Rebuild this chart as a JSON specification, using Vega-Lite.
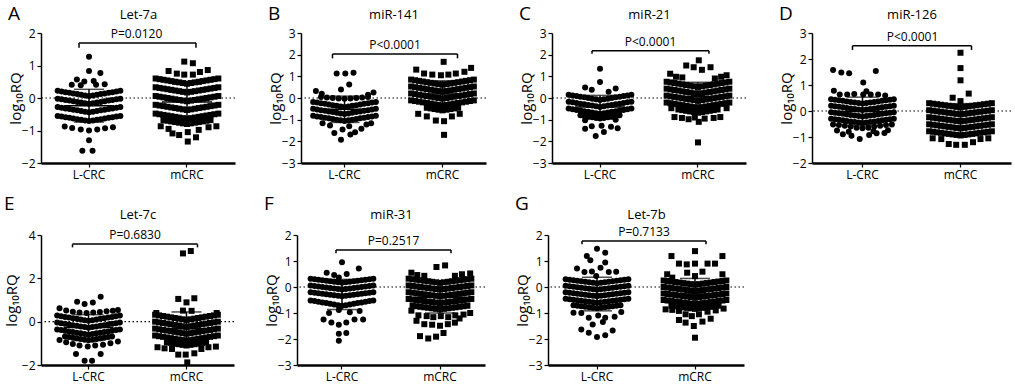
{
"$schema":"https://vega.github.io/schema/vega-lite/v6.json",
"padding":{"left":4,"top":5,"right":0,"bottom":4},
"config":{"font":"Open Sans","view":{"stroke":null},"axis":{"labelFont":"Open Sans","titleFont":"Open Sans","labelColor":"#000","titleColor":"#000","domainColor":"#000","tickColor":"#000","grid":false},"axisY":{"titleFontSize":15,"titleFontWeight":"normal","titleX":-18,"titleY":65,"tickSize":4,"tickWidth":1.2,"labelPadding":2,"domainWidth":1.5,"labelFontSize":12},"title":{"font":"Open Sans","fontWeight":"normal","color":"#000"}},
"datasets":{
"ann":[{"p":"A","t":"P=0.0120","yb":1.69,"yd":1.55},{"p":"B","t":"P<0.0001","yb":2.03,"yd":1.83},{"p":"C","t":"P<0.0001","yb":2.18,"yd":2.04},{"p":"D","t":"P<0.0001","yb":2.51,"yd":2.35},{"p":"E","t":"P=0.6830","yb":3.58,"yd":3.43},{"p":"F","t":"P=0.2517","yb":1.42,"yd":1.3},{"p":"G","t":"P=0.7133","yb":1.77,"yd":1.64}],
"pts":[
{"p":"A","g":"L-CRC","y":[0.22,0.2,0.18,0.16,0.14,0.12,0.1,0.08,0.06,0.08,0.1,0.12,0.14,0.16,0.18,0.2,0.22],"j":[-8,-7,-6,-5,-4,-3,-2,-1,0,1,2,3,4,5,6,7,8]},
{"p":"A","g":"L-CRC","y":[-0.02,-0.04,-0.06,-0.08,-0.1,-0.12,-0.14,-0.16,-0.18,-0.16,-0.14,-0.12,-0.1,-0.08,-0.06,-0.04,-0.02],"j":[-8,-7,-6,-5,-4,-3,-2,-1,0,1,2,3,4,5,6,7,8]},
{"p":"A","g":"L-CRC","y":[-0.28,-0.3,-0.32,-0.34,-0.36,-0.38,-0.4,-0.42,-0.44,-0.42,-0.4,-0.38,-0.36,-0.34,-0.32,-0.3,-0.28],"j":[-8,-7,-6,-5,-4,-3,-2,-1,0,1,2,3,4,5,6,7,8]},
{"p":"A","g":"L-CRC","y":[-0.55,-0.57,-0.59,-0.61,-0.63,-0.65,-0.67,-0.69,-0.71,-0.69,-0.67,-0.65,-0.63,-0.61,-0.59,-0.57,-0.55],"j":[-8,-7,-6,-5,-4,-3,-2,-1,0,1,2,3,4,5,6,7,8]},
{"p":"A","g":"L-CRC","y":[1.27,0.83,0.77,0.57,0.51,0.52,0.41,0.39,0.41,0.42,-0.88,-0.92,-0.97,-1.0,-0.97,-0.93,-0.9,-1.3,-1.62,-1.62],"j":[0,0,2.9,-3.1,-1.2,1.2,-4.4,-2.1,1.8,4,-6.2,-4.3,-2.1,0,2.1,4.1,6.1,0,-1.7,0.9]},
{"p":"A","g":"mCRC","y":[0.6,0.58,0.56,0.54,0.52,0.5,0.48,0.46,0.44,0.46,0.48,0.5,0.52,0.54,0.56,0.58,0.6],"j":[-8,-7,-6,-5,-4,-3,-2,-1,0,1,2,3,4,5,6,7,8]},
{"p":"A","g":"mCRC","y":[0.33,0.31,0.29,0.27,0.25,0.23,0.21,0.19,0.17,0.19,0.21,0.23,0.25,0.27,0.29,0.31,0.33],"j":[-8,-7,-6,-5,-4,-3,-2,-1,0,1,2,3,4,5,6,7,8]},
{"p":"A","g":"mCRC","y":[0.06,0.04,0.02,0,-0.02,-0.04,-0.06,-0.08,-0.1,-0.08,-0.06,-0.04,-0.02,0,0.02,0.04,0.06],"j":[-8,-7,-6,-5,-4,-3,-2,-1,0,1,2,3,4,5,6,7,8]},
{"p":"A","g":"mCRC","y":[-0.21,-0.23,-0.25,-0.27,-0.29,-0.31,-0.33,-0.35,-0.37,-0.35,-0.33,-0.31,-0.29,-0.27,-0.25,-0.23,-0.21],"j":[-8,-7,-6,-5,-4,-3,-2,-1,0,1,2,3,4,5,6,7,8]},
{"p":"A","g":"mCRC","y":[-0.48,-0.5,-0.52,-0.54,-0.56,-0.58,-0.6,-0.62,-0.64,-0.62,-0.6,-0.58,-0.56,-0.54,-0.52,-0.5,-0.48],"j":[-8,-7,-6,-5,-4,-3,-2,-1,0,1,2,3,4,5,6,7,8]},
{"p":"A","g":"mCRC","y":[-0.68,-0.7,-0.72,-0.74,-0.76,-0.78,-0.8,-0.78,-0.76,-0.74,-0.72,-0.7,-0.68],"j":[-6,-5,-4,-3,-2,-1,0,1,2,3,4,5,6]},
{"p":"A","g":"mCRC","y":[1.12,1.07,0.83,0.75,0.72,0.72,0.8,0.86,-0.87,-0.95,-0.9,-0.87,-1.09,-1.14,-1.05,-0.98,-1.21,-1.34],"j":[-0.7,1.5,-4.7,-2.6,-0.7,1.5,3.3,5.3,-6.7,-4.7,5.5,7.5,-3.7,-2,0.2,3,2.3,0.2]},
{"p":"B","g":"L-CRC","y":[0.05,0.02,0,-0.02,-0.04,-0.02,0,0.02,0.05],"j":[-6,-4.5,-3,-1.5,0,1.5,3,4.5,6]},
{"p":"B","g":"L-CRC","y":[-0.18,-0.21,-0.24,-0.27,-0.3,-0.33,-0.36,-0.39,-0.42,-0.39,-0.36,-0.33,-0.3,-0.27,-0.24,-0.21,-0.18],"j":[-8,-7,-6,-5,-4,-3,-2,-1,0,1,2,3,4,5,6,7,8]},
{"p":"B","g":"L-CRC","y":[-0.5,-0.53,-0.56,-0.59,-0.62,-0.65,-0.68,-0.71,-0.74,-0.71,-0.68,-0.65,-0.62,-0.59,-0.56,-0.53,-0.5],"j":[-8,-7,-6,-5,-4,-3,-2,-1,0,1,2,3,4,5,6,7,8]},
{"p":"B","g":"L-CRC","y":[-0.82,-0.85,-0.88,-0.91,-0.94,-0.97,-1,-1.03,-1.06,-1.03,-1,-0.97,-0.94,-0.91,-0.88,-0.85,-0.82],"j":[-8,-7,-6,-5,-4,-3,-2,-1,0,1,2,3,4,5,6,7,8]},
{"p":"B","g":"L-CRC","y":[1.13,1.13,1.16,0.62,0.39,0.32,0.2,0.25,0.15,-1.16,-1.27,-1.22,-1.16,-1.45,-1.42,-1.62,-1.58,-1.68,-1.93,-1.3],"j":[-2,0.2,2.3,1.2,-0.9,-7.3,-5.8,7.4,6,-5.6,-3.7,5.6,6.8,-0.5,4.3,-2.6,2.7,1.5,-0.9,1.2]},
{"p":"B","g":"mCRC","y":[0.85,0.82,0.79,0.76,0.73,0.7,0.67,0.64,0.61,0.64,0.67,0.7,0.73,0.76,0.79,0.82,0.85],"j":[-8,-7,-6,-5,-4,-3,-2,-1,0,1,2,3,4,5,6,7,8]},
{"p":"B","g":"mCRC","y":[0.53,0.5,0.47,0.44,0.41,0.38,0.35,0.32,0.29,0.32,0.35,0.38,0.41,0.44,0.47,0.5,0.53],"j":[-8,-7,-6,-5,-4,-3,-2,-1,0,1,2,3,4,5,6,7,8]},
{"p":"B","g":"mCRC","y":[0.21,0.18,0.15,0.12,0.09,0.06,0.03,0,-0.03,0,0.03,0.06,0.09,0.12,0.15,0.18,0.21],"j":[-8,-7,-6,-5,-4,-3,-2,-1,0,1,2,3,4,5,6,7,8]},
{"p":"B","g":"mCRC","y":[-0.11,-0.14,-0.17,-0.2,-0.23,-0.26,-0.29,-0.32,-0.35,-0.32,-0.29,-0.26,-0.23,-0.2,-0.17,-0.14,-0.11],"j":[-8,-7,-6,-5,-4,-3,-2,-1,0,1,2,3,4,5,6,7,8]},
{"p":"B","g":"mCRC","y":[-0.45,-0.48,-0.51,-0.54,-0.57,-0.54,-0.51,-0.48,-0.45],"j":[-4,-3,-2,-1,0,1,2,3,4]},
{"p":"B","g":"mCRC","y":[1.67,1.31,1.13,1.08,1.05,1.08,1.13,1.21,1.39,-0.73,-1.04,-1.07,-0.85,-0.73,-1.7,-0.85],"j":[0.3,-6.7,-4.7,-2.6,-0.4,1.5,3.4,5.6,7.3,-6.2,-1.7,0.4,2.4,4.4,0.4,-4]},
{"p":"C","g":"L-CRC","y":[0.15,0.12,0.09,0.06,0.03,0,-0.03,-0.06,-0.09,-0.06,-0.03,0,0.03,0.06,0.09,0.12,0.15],"j":[-8,-7,-6,-5,-4,-3,-2,-1,0,1,2,3,4,5,6,7,8]},
{"p":"C","g":"L-CRC","y":[-0.17,-0.2,-0.23,-0.26,-0.29,-0.32,-0.35,-0.38,-0.41,-0.38,-0.35,-0.32,-0.29,-0.26,-0.23,-0.2,-0.17],"j":[-8,-7,-6,-5,-4,-3,-2,-1,0,1,2,3,4,5,6,7,8]},
{"p":"C","g":"L-CRC","y":[-0.49,-0.52,-0.55,-0.58,-0.61,-0.64,-0.67,-0.7,-0.73,-0.7,-0.67,-0.64,-0.61,-0.58,-0.55,-0.52,-0.49],"j":[-8,-7,-6,-5,-4,-3,-2,-1,0,1,2,3,4,5,6,7,8]},
{"p":"C","g":"L-CRC","y":[-0.8,-0.83,-0.86,-0.89,-0.92,-0.95,-0.92,-0.89,-0.86,-0.83,-0.8],"j":[-5,-4,-3,-2,-1,0,1,2,3,4,5]},
{"p":"C","g":"L-CRC","y":[1.35,0.74,0.48,0.38,0.29,0.44,-1.03,-1.0,-1.3,-1.42,-1.33,-1.4,-1.57,-1.75,-1.28],"j":[0,0,-3.8,-2.1,2.2,4,-3.8,4,-2.1,-3.8,2.8,4.5,1,-1.1,0.4]},
{"p":"C","g":"mCRC","y":[0.75,0.72,0.69,0.66,0.63,0.6,0.57,0.54,0.51,0.54,0.57,0.6,0.63,0.66,0.69,0.72,0.75],"j":[-8,-7,-6,-5,-4,-3,-2,-1,0,1,2,3,4,5,6,7,8]},
{"p":"C","g":"mCRC","y":[0.43,0.4,0.37,0.34,0.31,0.28,0.25,0.22,0.19,0.22,0.25,0.28,0.31,0.34,0.37,0.4,0.43],"j":[-8,-7,-6,-5,-4,-3,-2,-1,0,1,2,3,4,5,6,7,8]},
{"p":"C","g":"mCRC","y":[0.11,0.08,0.05,0.02,-0.01,-0.04,-0.07,-0.1,-0.13,-0.1,-0.07,-0.04,-0.01,0.02,0.05,0.08,0.11],"j":[-8,-7,-6,-5,-4,-3,-2,-1,0,1,2,3,4,5,6,7,8]},
{"p":"C","g":"mCRC","y":[-0.21,-0.24,-0.27,-0.3,-0.33,-0.36,-0.39,-0.42,-0.45,-0.42,-0.39,-0.36,-0.33,-0.3,-0.27,-0.24,-0.21],"j":[-8,-7,-6,-5,-4,-3,-2,-1,0,1,2,3,4,5,6,7,8]},
{"p":"C","g":"mCRC","y":[-0.53,-0.56,-0.59,-0.62,-0.65,-0.68,-0.65,-0.62,-0.59,-0.56,-0.53],"j":[-5,-4,-3,-2,-1,0,1,2,3,4,5]},
{"p":"C","g":"mCRC","y":[1.74,1.5,1.42,1.3,1.42,1.12,0.98,0.95,0.98,1.05,0.9,-0.47,-0.88,-0.92,-0.98,-0.9,-1.1,-0.95,-0.92,-0.88,-0.47,-2.05],"j":[0.2,-3,-1.1,1,3.2,-7.1,-5.6,-4,5.9,7.3,4.3,-6.8,-6,-4.1,-2.4,-0.8,0.2,1.7,4,5.7,7.3,0]},
{"p":"D","g":"L-CRC","y":[0.78,0.63,0.63,0.65,0.63,0.63,0.63,0.6],"j":[-7.3,-5.8,-3.9,-2.1,0.2,2.1,4,5.8]},
{"p":"D","g":"L-CRC","y":[0.45,0.43,0.41,0.39,0.37,0.35,0.33,0.31,0.29,0.31,0.33,0.35,0.37,0.39,0.41,0.43,0.45],"j":[-8,-7,-6,-5,-4,-3,-2,-1,0,1,2,3,4,5,6,7,8]},
{"p":"D","g":"L-CRC","y":[0.2,0.18,0.16,0.14,0.12,0.1,0.08,0.06,0.04,0.06,0.08,0.1,0.12,0.14,0.16,0.18,0.2],"j":[-8,-7,-6,-5,-4,-3,-2,-1,0,1,2,3,4,5,6,7,8]},
{"p":"D","g":"L-CRC","y":[-0.05,-0.07,-0.09,-0.11,-0.13,-0.15,-0.17,-0.19,-0.21,-0.19,-0.17,-0.15,-0.13,-0.11,-0.09,-0.07,-0.05],"j":[-8,-7,-6,-5,-4,-3,-2,-1,0,1,2,3,4,5,6,7,8]},
{"p":"D","g":"L-CRC","y":[-0.3,-0.32,-0.34,-0.36,-0.38,-0.4,-0.42,-0.44,-0.46,-0.44,-0.42,-0.4,-0.38,-0.36,-0.34,-0.32,-0.3],"j":[-8,-7,-6,-5,-4,-3,-2,-1,0,1,2,3,4,5,6,7,8]},
{"p":"D","g":"L-CRC","y":[-0.52,-0.54,-0.57,-0.6,-0.64,-0.66,-0.64,-0.6,-0.57,-0.54,-0.52],"j":[-7.5,-6,-4.5,-3,-1.5,0,1.5,3,4.5,6,7.5]},
{"p":"D","g":"L-CRC","y":[1.58,1.48,1.45,1.54,1.1,0.76,-0.89,-0.95,-1.08,-0.92,-0.86,-0.85,-0.75,-0.8,-0.78,-0.74],"j":[-7.5,-5.4,-3.4,3.4,0.2,1,-5,-2.8,-0.7,1.7,3.6,5.6,-6.5,-3.5,2.8,6.5]},
{"p":"D","g":"mCRC","y":[0.3,0.28,0.26,0.24,0.22,0.2,0.18,0.16,0.14,0.16,0.18,0.2,0.22,0.24,0.26,0.28,0.3],"j":[-8,-7,-6,-5,-4,-3,-2,-1,0,1,2,3,4,5,6,7,8]},
{"p":"D","g":"mCRC","y":[0.03,0.01,-0.01,-0.03,-0.05,-0.07,-0.09,-0.11,-0.13,-0.11,-0.09,-0.07,-0.05,-0.03,-0.01,0.01,0.03],"j":[-8,-7,-6,-5,-4,-3,-2,-1,0,1,2,3,4,5,6,7,8]},
{"p":"D","g":"mCRC","y":[-0.24,-0.26,-0.28,-0.3,-0.32,-0.34,-0.36,-0.38,-0.4,-0.38,-0.36,-0.34,-0.32,-0.3,-0.28,-0.26,-0.24],"j":[-8,-7,-6,-5,-4,-3,-2,-1,0,1,2,3,4,5,6,7,8]},
{"p":"D","g":"mCRC","y":[-0.51,-0.53,-0.55,-0.57,-0.59,-0.61,-0.63,-0.65,-0.67,-0.65,-0.63,-0.61,-0.59,-0.57,-0.55,-0.53,-0.51],"j":[-8,-7,-6,-5,-4,-3,-2,-1,0,1,2,3,4,5,6,7,8]},
{"p":"D","g":"mCRC","y":[-0.78,-0.8,-0.82,-0.84,-0.86,-0.88,-0.9,-0.92,-0.94,-0.92,-0.9,-0.88,-0.86,-0.84,-0.82,-0.8,-0.78],"j":[-8,-7,-6,-5,-4,-3,-2,-1,0,1,2,3,4,5,6,7,8]},
{"p":"D","g":"mCRC","y":[2.24,1.65,1.18,0.67,0.51,0.38,-1.05,-1.08,-1.27,-1.3,-1.3,-1.2,-1.08,-1.05],"j":[0,0,0,2.1,-2,0,-7.1,-4.9,-3,-1.1,1.1,3.2,5.1,7.1]},
{"p":"E","g":"L-CRC","y":[0.62,0.51,0.46,0.42,0.4,0.42,0.45,0.48,0.5,0.54],"j":[-7.4,-5.7,-4,-2.3,-0.5,1.2,2.9,4.6,6.2,7.5]},
{"p":"E","g":"L-CRC","y":[0.28,0.25,0.22,0.19,0.16,0.13,0.1,0.07,0.04,0.07,0.1,0.13,0.16,0.19,0.22,0.25,0.28],"j":[-8,-7,-6,-5,-4,-3,-2,-1,0,1,2,3,4,5,6,7,8]},
{"p":"E","g":"L-CRC","y":[-0.04,-0.07,-0.1,-0.13,-0.16,-0.19,-0.22,-0.25,-0.28,-0.25,-0.22,-0.19,-0.16,-0.13,-0.1,-0.07,-0.04],"j":[-8,-7,-6,-5,-4,-3,-2,-1,0,1,2,3,4,5,6,7,8]},
{"p":"E","g":"L-CRC","y":[-0.36,-0.39,-0.42,-0.45,-0.48,-0.51,-0.54,-0.57,-0.6,-0.57,-0.54,-0.51,-0.48,-0.45,-0.42,-0.39,-0.36],"j":[-8,-7,-6,-5,-4,-3,-2,-1,0,1,2,3,4,5,6,7,8]},
{"p":"E","g":"L-CRC","y":[-0.68,-0.71,-0.74,-0.77,-0.8,-0.83,-0.86,-0.83,-0.8,-0.77,-0.74,-0.71,-0.68],"j":[-6,-5,-4,-3,-2,-1,0,1,2,3,4,5,6]},
{"p":"E","g":"L-CRC","y":[0.92,0.82,0.89,1.15,-0.85,-0.95,-1.03,-1.1,-1.15,-1.1,-1.06,-1.0,-0.91,-1.49,-1.49,-1.8,-1.8],"j":[-2.9,-1,1.1,3.1,-7.4,-5.7,-4,-2.3,-0.2,1.7,3.7,5.6,7.5,-3.2,3.1,-1,0.9]},
{"p":"E","g":"mCRC","y":[0.32,0.29,0.26,0.23,0.2,0.17,0.14,0.11,0.08,0.11,0.14,0.17,0.2,0.23,0.26,0.29,0.32],"j":[-8,-7,-6,-5,-4,-3,-2,-1,0,1,2,3,4,5,6,7,8]},
{"p":"E","g":"mCRC","y":[0,-0.03,-0.06,-0.09,-0.12,-0.15,-0.18,-0.21,-0.24,-0.21,-0.18,-0.15,-0.12,-0.09,-0.06,-0.03,0],"j":[-8,-7,-6,-5,-4,-3,-2,-1,0,1,2,3,4,5,6,7,8]},
{"p":"E","g":"mCRC","y":[-0.32,-0.35,-0.38,-0.41,-0.44,-0.47,-0.5,-0.53,-0.56,-0.53,-0.5,-0.47,-0.44,-0.41,-0.38,-0.35,-0.32],"j":[-8,-7,-6,-5,-4,-3,-2,-1,0,1,2,3,4,5,6,7,8]},
{"p":"E","g":"mCRC","y":[-0.64,-0.67,-0.7,-0.73,-0.76,-0.79,-0.82,-0.85,-0.88,-0.85,-0.82,-0.79,-0.76,-0.73,-0.7,-0.67,-0.64],"j":[-8,-7,-6,-5,-4,-3,-2,-1,0,1,2,3,4,5,6,7,8]},
{"p":"E","g":"mCRC","y":[-0.95,-0.98,-1.01,-1.04,-1.07,-1.1,-1.07,-1.04,-1.01,-0.98,-0.95],"j":[-5,-4,-3,-2,-1,0,1,2,3,4,5]},
{"p":"E","g":"mCRC","y":[3.15,3.26,1.05,1.08,0.89,0.51,0.5,0.4,0.4,-1.18,-1.23,-1.26,-1.52,-1.52,-1.46,-1.26,-1.18,-1.15,-1.88],"j":[-0.9,1.1,-2.1,2,0,-0.9,1.3,-7.7,7.7,-7.4,-5.6,-3.7,-2.1,-0.2,2,3.8,5.6,7.5,0.2]},
{"p":"F","g":"L-CRC","y":[0.32,0.3,0.28,0.26,0.24,0.22,0.2,0.18,0.16,0.18,0.2,0.22,0.24,0.26,0.28,0.3,0.32],"j":[-8,-7,-6,-5,-4,-3,-2,-1,0,1,2,3,4,5,6,7,8]},
{"p":"F","g":"L-CRC","y":[0.06,0.04,0.02,0,-0.02,-0.04,-0.06,-0.08,-0.1,-0.08,-0.06,-0.04,-0.02,0,0.02,0.04,0.06],"j":[-8,-7,-6,-5,-4,-3,-2,-1,0,1,2,3,4,5,6,7,8]},
{"p":"F","g":"L-CRC","y":[-0.2,-0.22,-0.24,-0.26,-0.28,-0.3,-0.32,-0.34,-0.36,-0.34,-0.32,-0.3,-0.28,-0.26,-0.24,-0.22,-0.2],"j":[-8,-7,-6,-5,-4,-3,-2,-1,0,1,2,3,4,5,6,7,8]},
{"p":"F","g":"L-CRC","y":[-0.52,-0.54,-0.57,-0.6,-0.62,-0.64,-0.67,-0.7,-0.72,-0.7,-0.67,-0.64,-0.62,-0.6,-0.57,-0.54,-0.52],"j":[-8,-7,-6,-5,-4,-3,-2,-1,0,1,2,3,4,5,6,7,8]},
{"p":"F","g":"L-CRC","y":[0.95,0.71,0.55,0.46,0.5,0.37,-0.88,-1.0,-0.92,-0.97,-1.25,-1.37,-1.45,-1.37,-1.25,-1.25,-1.8,-1.77,-2.07],"j":[0,4.3,-3.9,-2,1.2,-0.8,-0.8,-3.3,4.5,2,-4.7,-2.7,-0.8,1.1,3.2,5.4,-0.8,1.1,-0.8]},
{"p":"F","g":"mCRC","y":[0.32,0.3,0.28,0.26,0.24,0.22,0.2,0.18,0.16,0.18,0.2,0.22,0.24,0.26,0.28,0.3,0.32],"j":[-8,-7,-6,-5,-4,-3,-2,-1,0,1,2,3,4,5,6,7,8]},
{"p":"F","g":"mCRC","y":[0.06,0.04,0.02,0,-0.02,-0.04,-0.06,-0.08,-0.1,-0.08,-0.06,-0.04,-0.02,0,0.02,0.04,0.06],"j":[-8,-7,-6,-5,-4,-3,-2,-1,0,1,2,3,4,5,6,7,8]},
{"p":"F","g":"mCRC","y":[-0.2,-0.22,-0.24,-0.26,-0.28,-0.3,-0.32,-0.34,-0.36,-0.34,-0.32,-0.3,-0.28,-0.26,-0.24,-0.22,-0.2],"j":[-8,-7,-6,-5,-4,-3,-2,-1,0,1,2,3,4,5,6,7,8]},
{"p":"F","g":"mCRC","y":[-0.46,-0.48,-0.5,-0.52,-0.54,-0.56,-0.58,-0.6,-0.62,-0.6,-0.58,-0.56,-0.54,-0.52,-0.5,-0.48,-0.46],"j":[-8,-7,-6,-5,-4,-3,-2,-1,0,1,2,3,4,5,6,7,8]},
{"p":"F","g":"mCRC","y":[-0.72,-0.74,-0.76,-0.78,-0.8,-0.82,-0.84,-0.86,-0.84,-0.82,-0.8,-0.78,-0.76,-0.74,-0.72],"j":[-7,-6,-5,-4,-3,-2,-1,0,1,2,3,4,5,6,7]},
{"p":"F","g":"mCRC","y":[0.77,0.83,0.55,0.46,0.43,0.43,0.49,0.52,-0.91,-1.0,-1.09,-1.12,-1.16,-1.12,-1.16,-1.09,-1.06,-1.3,-1.43,-1.45,-1.49,-1.43,-1.37,-1.21,-1.89,-1.98,-1.91,-1.77],"j":[-0.9,1.3,-7.3,-5.8,-4,3.8,5.6,7.7,-7.3,7.7,-5.5,-3.4,-1.7,0.2,2.1,3.9,6,-6,-4,-2,0,2,3.8,5,-5.1,-3,-1,0.9]},
{"p":"G","g":"L-CRC","y":[0.3,0.28,0.26,0.24,0.22,0.2,0.18,0.16,0.14,0.16,0.18,0.2,0.22,0.24,0.26,0.28,0.3],"j":[-8,-7,-6,-5,-4,-3,-2,-1,0,1,2,3,4,5,6,7,8]},
{"p":"G","g":"L-CRC","y":[0.05,0.03,0.01,-0.01,-0.03,-0.05,-0.07,-0.09,-0.11,-0.09,-0.07,-0.05,-0.03,-0.01,0.01,0.03,0.05],"j":[-8,-7,-6,-5,-4,-3,-2,-1,0,1,2,3,4,5,6,7,8]},
{"p":"G","g":"L-CRC","y":[-0.2,-0.22,-0.24,-0.26,-0.28,-0.3,-0.32,-0.34,-0.36,-0.34,-0.32,-0.3,-0.28,-0.26,-0.24,-0.22,-0.2],"j":[-8,-7,-6,-5,-4,-3,-2,-1,0,1,2,3,4,5,6,7,8]},
{"p":"G","g":"L-CRC","y":[-0.45,-0.47,-0.49,-0.51,-0.53,-0.55,-0.57,-0.59,-0.61,-0.59,-0.57,-0.55,-0.53,-0.51,-0.49,-0.47,-0.45],"j":[-8,-7,-6,-5,-4,-3,-2,-1,0,1,2,3,4,5,6,7,8]},
{"p":"G","g":"L-CRC","y":[-0.7,-0.72,-0.74,-0.76,-0.78,-0.8,-0.82,-0.8,-0.78,-0.76,-0.74,-0.72,-0.7],"j":[-6,-5,-4,-3,-2,-1,0,1,2,3,4,5,6]},
{"p":"G","g":"L-CRC","y":[1.47,1.19,1.03,1.32,0.94,0.71,0.58,0.6,0.74,0.58,0.59,0.42,-0.99,-1.0,-1.18,-1.1,-1.18,-1.14,-0.96,-1.44,-1.35,-1.63,-1.76,-1.92,-1.86,-1.67],"j":[0,-2.6,-1.7,2.1,2.1,-5.1,-3.2,-1.3,0.9,3,4.9,-0.2,-6,-4,-2.1,0.3,2.1,4.5,6.2,-1.1,1.5,-4,-2.1,0,2.1,4]},
{"p":"G","g":"mCRC","y":[0.25,0.23,0.21,0.19,0.17,0.15,0.13,0.11,0.09,0.11,0.13,0.15,0.17,0.19,0.21,0.23,0.25],"j":[-8,-7,-6,-5,-4,-3,-2,-1,0,1,2,3,4,5,6,7,8]},
{"p":"G","g":"mCRC","y":[0,-0.02,-0.04,-0.06,-0.08,-0.1,-0.12,-0.14,-0.16,-0.14,-0.12,-0.1,-0.08,-0.06,-0.04,-0.02,0],"j":[-8,-7,-6,-5,-4,-3,-2,-1,0,1,2,3,4,5,6,7,8]},
{"p":"G","g":"mCRC","y":[-0.25,-0.27,-0.29,-0.31,-0.33,-0.35,-0.37,-0.39,-0.41,-0.39,-0.37,-0.35,-0.33,-0.31,-0.29,-0.27,-0.25],"j":[-8,-7,-6,-5,-4,-3,-2,-1,0,1,2,3,4,5,6,7,8]},
{"p":"G","g":"mCRC","y":[-0.5,-0.52,-0.54,-0.56,-0.58,-0.6,-0.62,-0.64,-0.66,-0.64,-0.62,-0.6,-0.58,-0.56,-0.54,-0.52,-0.5],"j":[-8,-7,-6,-5,-4,-3,-2,-1,0,1,2,3,4,5,6,7,8]},
{"p":"G","g":"mCRC","y":[-0.72,-0.74,-0.76,-0.78,-0.8,-0.82,-0.84,-0.82,-0.8,-0.78,-0.76,-0.74,-0.72],"j":[-6,-5,-4,-3,-2,-1,0,1,2,3,4,5,6]},
{"p":"G","g":"mCRC","y":[1.38,1.19,1.19,0.9,0.87,0.9,0.9,0.9,0.55,0.59,0.42,0.49,0.36,0.49,-0.86,-0.88,-0.92,-1.05,-1.12,-1.05,-0.95,-0.9,-0.83,-1.27,-1.37,-1.5,-1.33,-1.22,-1.95],"j":[0,-6,7,-4.1,-2.1,0,3.2,5.1,-2,1.9,0,-7.1,-5.8,7,-7.5,-5.8,-4.1,-2.4,-0.8,1,3.2,5.3,7.3,-4.1,-2.4,-0.3,1.9,4,0]}
]},
"spacing":15,
"vconcat":[
{"spacing":32,"hconcat":[
{"width":194,"height":130,"title":{"text":"A","anchor":"start","frame":"bounds","fontSize":19,"offset":-16},"resolve":{"axis":{"x":"independent"}},
"encoding":{"y":{"type":"quantitative","scale":{"domain":[-2,2],"nice":false,"zero":false},"axis":{"values":[-2,-1,0,1,2],"title":"log₁₀RQ"}}},
"layer":[
{"data":{"name":"pts"},"transform":[{"filter":"datum.p==='A'"},{"flatten":["y","j"]}],"mark":{"type":"point","filled":true,"opacity":1,"color":"#000","size":36},"encoding":{"x":{"field":"g","type":"nominal","scale":{"domain":["L-CRC","mCRC"],"paddingInner":0.2,"paddingOuter":0.09},"axis":{"title":null,"labelAngle":0,"domainWidth":2.5,"tickSize":4,"tickWidth":1.2,"labelPadding":2,"labelFontSize":12}},"xOffset":{"field":"j","type":"quantitative","scale":{"domain":[-10,10]}},"y":{"field":"y"},"shape":{"field":"g","type":"nominal","scale":{"domain":["L-CRC","mCRC"],"range":["circle","square"]},"legend":null}}},
{"data":{"values":[{}]},"mark":{"type":"rule","strokeDash":[1.5,2.5],"color":"#000","strokeWidth":1.2},"encoding":{"y":{"datum":0}}},
{"data":{"name":"pts"},"transform":[{"filter":"datum.p==='A'"},{"flatten":["y","j"]}],"mark":{"type":"errorbar","extent":"stdev","color":"#000","thickness":1.5,"ticks":{"size":30,"color":"#000"}},"encoding":{"x":{"field":"g","type":"nominal","axis":null},"y":{"field":"y"}}},
{"data":{"name":"pts"},"transform":[{"filter":"datum.p==='A'"},{"flatten":["y","j"]}],"mark":{"type":"tick","size":50,"thickness":1.5,"color":"#000"},"encoding":{"x":{"field":"g","type":"nominal","axis":null},"y":{"field":"y","aggregate":"mean"}}},
{"data":{"name":"ann"},"transform":[{"filter":"datum.p==='A'"}],"mark":{"type":"rule","xOffset":-10,"x2Offset":9,"strokeWidth":1.5,"color":"#000"},"encoding":{"x":{"datum":"L-CRC","type":"nominal","axis":null},"x2":{"datum":"mCRC"},"y":{"field":"yb"}}},
{"data":{"name":"ann"},"transform":[{"filter":"datum.p==='A'"}],"mark":{"type":"rule","xOffset":-10,"strokeWidth":1.5,"color":"#000"},"encoding":{"x":{"datum":"L-CRC","type":"nominal","axis":null},"y":{"field":"yb"},"y2":{"field":"yd"}}},
{"data":{"name":"ann"},"transform":[{"filter":"datum.p==='A'"}],"mark":{"type":"rule","xOffset":9,"strokeWidth":1.5,"color":"#000"},"encoding":{"x":{"datum":"mCRC","type":"nominal","axis":null},"y":{"field":"yb"},"y2":{"field":"yd"}}},
{"data":{"name":"ann"},"transform":[{"filter":"datum.p==='A'"}],"mark":{"type":"text","dx":47.5,"dy":-2,"baseline":"bottom","fontSize":12,"color":"#000"},"encoding":{"x":{"datum":"L-CRC","type":"nominal","axis":{"orient":"top","title":"Let-7a","labels":false,"ticks":false,"domain":false,"titlePadding":12,"titleFontSize":13,"titleFontWeight":"normal"}},"y":{"field":"yb"},"text":{"field":"t"}}}
]},
{"width":185,"height":130,"title":{"text":"B","anchor":"start","frame":"bounds","fontSize":19,"offset":-16},"resolve":{"axis":{"x":"independent"}},
"encoding":{"y":{"type":"quantitative","scale":{"domain":[-3,3],"nice":false,"zero":false},"axis":{"values":[-3,-2,-1,0,1,2,3],"title":"log₁₀RQ"}}},
"layer":[
{"data":{"name":"pts"},"transform":[{"filter":"datum.p==='B'"},{"flatten":["y","j"]}],"mark":{"type":"point","filled":true,"opacity":1,"color":"#000","size":36},"encoding":{"x":{"field":"g","type":"nominal","scale":{"domain":["L-CRC","mCRC"],"paddingInner":0.2,"paddingOuter":0.044},"axis":{"title":null,"labelAngle":0,"domainWidth":2.5,"tickSize":4,"tickWidth":1.2,"labelPadding":2,"labelFontSize":12}},"xOffset":{"field":"j","type":"quantitative","scale":{"domain":[-10,10]}},"y":{"field":"y"},"shape":{"field":"g","type":"nominal","scale":{"domain":["L-CRC","mCRC"],"range":["circle","square"]},"legend":null}}},
{"data":{"values":[{}]},"mark":{"type":"rule","strokeDash":[1.5,2.5],"color":"#000","strokeWidth":1.2},"encoding":{"y":{"datum":0}}},
{"data":{"name":"pts"},"transform":[{"filter":"datum.p==='B'"},{"flatten":["y","j"]}],"mark":{"type":"errorbar","extent":"stdev","color":"#000","thickness":1.5,"ticks":{"size":30,"color":"#000"}},"encoding":{"x":{"field":"g","type":"nominal","axis":null},"y":{"field":"y"}}},
{"data":{"name":"pts"},"transform":[{"filter":"datum.p==='B'"},{"flatten":["y","j"]}],"mark":{"type":"tick","size":50,"thickness":1.5,"color":"#000"},"encoding":{"x":{"field":"g","type":"nominal","axis":null},"y":{"field":"y","aggregate":"mean"}}},
{"data":{"name":"ann"},"transform":[{"filter":"datum.p==='B'"}],"mark":{"type":"rule","xOffset":-12,"x2Offset":15,"strokeWidth":1.5,"color":"#000"},"encoding":{"x":{"datum":"L-CRC","type":"nominal","axis":null},"x2":{"datum":"mCRC"},"y":{"field":"yb"}}},
{"data":{"name":"ann"},"transform":[{"filter":"datum.p==='B'"}],"mark":{"type":"rule","xOffset":-12,"strokeWidth":1.5,"color":"#000"},"encoding":{"x":{"datum":"L-CRC","type":"nominal","axis":null},"y":{"field":"yb"},"y2":{"field":"yd"}}},
{"data":{"name":"ann"},"transform":[{"filter":"datum.p==='B'"}],"mark":{"type":"rule","xOffset":15,"strokeWidth":1.5,"color":"#000"},"encoding":{"x":{"datum":"mCRC","type":"nominal","axis":null},"y":{"field":"yb"},"y2":{"field":"yd"}}},
{"data":{"name":"ann"},"transform":[{"filter":"datum.p==='B'"}],"mark":{"type":"text","dx":50.5,"dy":-2,"baseline":"bottom","fontSize":12,"color":"#000"},"encoding":{"x":{"datum":"L-CRC","type":"nominal","axis":{"orient":"top","title":"miR-141","labels":false,"ticks":false,"domain":false,"titlePadding":12,"titleFontSize":13,"titleFontWeight":"normal"}},"y":{"field":"yb"},"text":{"field":"t"}}}
]},
{"width":194,"height":130,"title":{"text":"C","anchor":"start","frame":"bounds","fontSize":19,"offset":-16},"resolve":{"axis":{"x":"independent"}},
"encoding":{"y":{"type":"quantitative","scale":{"domain":[-3,3],"nice":false,"zero":false},"axis":{"values":[-3,-2,-1,0,1,2,3],"title":"log₁₀RQ"}}},
"layer":[
{"data":{"name":"pts"},"transform":[{"filter":"datum.p==='C'"},{"flatten":["y","j"]}],"mark":{"type":"point","filled":true,"opacity":1,"color":"#000","size":36},"encoding":{"x":{"field":"g","type":"nominal","scale":{"domain":["L-CRC","mCRC"],"paddingInner":0.2,"paddingOuter":0.09},"axis":{"title":null,"labelAngle":0,"domainWidth":2.5,"tickSize":4,"tickWidth":1.2,"labelPadding":2,"labelFontSize":12}},"xOffset":{"field":"j","type":"quantitative","scale":{"domain":[-10,10]}},"y":{"field":"y"},"shape":{"field":"g","type":"nominal","scale":{"domain":["L-CRC","mCRC"],"range":["circle","square"]},"legend":null}}},
{"data":{"values":[{}]},"mark":{"type":"rule","strokeDash":[1.5,2.5],"color":"#000","strokeWidth":1.2},"encoding":{"y":{"datum":0}}},
{"data":{"name":"pts"},"transform":[{"filter":"datum.p==='C'"},{"flatten":["y","j"]}],"mark":{"type":"errorbar","extent":"stdev","color":"#000","thickness":1.5,"ticks":{"size":30,"color":"#000"}},"encoding":{"x":{"field":"g","type":"nominal","axis":null},"y":{"field":"y"}}},
{"data":{"name":"pts"},"transform":[{"filter":"datum.p==='C'"},{"flatten":["y","j"]}],"mark":{"type":"tick","size":50,"thickness":1.5,"color":"#000"},"encoding":{"x":{"field":"g","type":"nominal","axis":null},"y":{"field":"y","aggregate":"mean"}}},
{"data":{"name":"ann"},"transform":[{"filter":"datum.p==='C'"}],"mark":{"type":"rule","xOffset":-8,"x2Offset":11,"strokeWidth":1.5,"color":"#000"},"encoding":{"x":{"datum":"L-CRC","type":"nominal","axis":null},"x2":{"datum":"mCRC"},"y":{"field":"yb"}}},
{"data":{"name":"ann"},"transform":[{"filter":"datum.p==='C'"}],"mark":{"type":"rule","xOffset":-8,"strokeWidth":1.5,"color":"#000"},"encoding":{"x":{"datum":"L-CRC","type":"nominal","axis":null},"y":{"field":"yb"},"y2":{"field":"yd"}}},
{"data":{"name":"ann"},"transform":[{"filter":"datum.p==='C'"}],"mark":{"type":"rule","xOffset":11,"strokeWidth":1.5,"color":"#000"},"encoding":{"x":{"datum":"mCRC","type":"nominal","axis":null},"y":{"field":"yb"},"y2":{"field":"yd"}}},
{"data":{"name":"ann"},"transform":[{"filter":"datum.p==='C'"}],"mark":{"type":"text","dx":50.5,"dy":-2,"baseline":"bottom","fontSize":12,"color":"#000"},"encoding":{"x":{"datum":"L-CRC","type":"nominal","axis":{"orient":"top","title":"miR-21","labels":false,"ticks":false,"domain":false,"titlePadding":12,"titleFontSize":13,"titleFontWeight":"normal"}},"y":{"field":"yb"},"text":{"field":"t"}}}
]},
{"width":199,"height":130,"title":{"text":"D","anchor":"start","frame":"bounds","fontSize":19,"offset":-16},"resolve":{"axis":{"x":"independent"}},
"encoding":{"y":{"type":"quantitative","scale":{"domain":[-2,3],"nice":false,"zero":false},"axis":{"values":[-2,-1,0,1,2,3],"title":"log₁₀RQ"}}},
"layer":[
{"data":{"name":"pts"},"transform":[{"filter":"datum.p==='D'"},{"flatten":["y","j"]}],"mark":{"type":"point","filled":true,"opacity":1,"color":"#000","size":36},"encoding":{"x":{"field":"g","type":"nominal","scale":{"domain":["L-CRC","mCRC"],"paddingInner":0.2,"paddingOuter":0.115},"axis":{"title":null,"labelAngle":0,"domainWidth":2.5,"tickSize":4,"tickWidth":1.2,"labelPadding":2,"labelFontSize":12}},"xOffset":{"field":"j","type":"quantitative","scale":{"domain":[-10,10]}},"y":{"field":"y"},"shape":{"field":"g","type":"nominal","scale":{"domain":["L-CRC","mCRC"],"range":["circle","square"]},"legend":null}}},
{"data":{"values":[{}]},"mark":{"type":"rule","strokeDash":[1.5,2.5],"color":"#000","strokeWidth":1.2},"encoding":{"y":{"datum":0}}},
{"data":{"name":"pts"},"transform":[{"filter":"datum.p==='D'"},{"flatten":["y","j"]}],"mark":{"type":"errorbar","extent":"stdev","color":"#000","thickness":1.5,"ticks":{"size":30,"color":"#000"}},"encoding":{"x":{"field":"g","type":"nominal","axis":null},"y":{"field":"y"}}},
{"data":{"name":"pts"},"transform":[{"filter":"datum.p==='D'"},{"flatten":["y","j"]}],"mark":{"type":"tick","size":50,"thickness":1.5,"color":"#000"},"encoding":{"x":{"field":"g","type":"nominal","axis":null},"y":{"field":"y","aggregate":"mean"}}},
{"data":{"name":"ann"},"transform":[{"filter":"datum.p==='D'"}],"mark":{"type":"rule","xOffset":-10,"x2Offset":11,"strokeWidth":1.5,"color":"#000"},"encoding":{"x":{"datum":"L-CRC","type":"nominal","axis":null},"x2":{"datum":"mCRC"},"y":{"field":"yb"}}},
{"data":{"name":"ann"},"transform":[{"filter":"datum.p==='D'"}],"mark":{"type":"rule","xOffset":-10,"strokeWidth":1.5,"color":"#000"},"encoding":{"x":{"datum":"L-CRC","type":"nominal","axis":null},"y":{"field":"yb"},"y2":{"field":"yd"}}},
{"data":{"name":"ann"},"transform":[{"filter":"datum.p==='D'"}],"mark":{"type":"rule","xOffset":11,"strokeWidth":1.5,"color":"#000"},"encoding":{"x":{"datum":"mCRC","type":"nominal","axis":null},"y":{"field":"yb"},"y2":{"field":"yd"}}},
{"data":{"name":"ann"},"transform":[{"filter":"datum.p==='D'"}],"mark":{"type":"text","dx":50,"dy":-2,"baseline":"bottom","fontSize":12,"color":"#000"},"encoding":{"x":{"datum":"L-CRC","type":"nominal","axis":{"orient":"top","title":"miR-126","labels":false,"ticks":false,"domain":false,"titlePadding":12,"titleFontSize":13,"titleFontWeight":"normal"}},"y":{"field":"yb"},"text":{"field":"t"}}}
]}
]},
{"spacing":29,"hconcat":[
{"width":193,"height":130,"title":{"text":"E","anchor":"start","frame":"bounds","fontSize":19,"offset":-6},"resolve":{"axis":{"x":"independent"}},
"encoding":{"y":{"type":"quantitative","scale":{"domain":[-2,4],"nice":false,"zero":false},"axis":{"values":[-2,0,2,4],"titleX":-22,"title":"log₁₀RQ"}}},
"layer":[
{"data":{"name":"pts"},"transform":[{"filter":"datum.p==='E'"},{"flatten":["y","j"]}],"mark":{"type":"point","filled":true,"opacity":1,"color":"#000","size":36},"encoding":{"x":{"field":"g","type":"nominal","scale":{"domain":["L-CRC","mCRC"],"paddingInner":0.2,"paddingOuter":0.085},"axis":{"title":null,"labelAngle":0,"domainWidth":2.5,"tickSize":4,"tickWidth":1.2,"labelPadding":2,"labelFontSize":12}},"xOffset":{"field":"j","type":"quantitative","scale":{"domain":[-10,10]}},"y":{"field":"y"},"shape":{"field":"g","type":"nominal","scale":{"domain":["L-CRC","mCRC"],"range":["circle","square"]},"legend":null}}},
{"data":{"values":[{}]},"mark":{"type":"rule","strokeDash":[1.5,2.5],"color":"#000","strokeWidth":1.2},"encoding":{"y":{"datum":0}}},
{"data":{"name":"pts"},"transform":[{"filter":"datum.p==='E'"},{"flatten":["y","j"]}],"mark":{"type":"errorbar","extent":"stdev","color":"#000","thickness":1.5,"ticks":{"size":30,"color":"#000"}},"encoding":{"x":{"field":"g","type":"nominal","axis":null},"y":{"field":"y"}}},
{"data":{"name":"pts"},"transform":[{"filter":"datum.p==='E'"},{"flatten":["y","j"]}],"mark":{"type":"tick","size":50,"thickness":1.5,"color":"#000"},"encoding":{"x":{"field":"g","type":"nominal","axis":null},"y":{"field":"y","aggregate":"mean"}}},
{"data":{"name":"ann"},"transform":[{"filter":"datum.p==='E'"}],"mark":{"type":"rule","xOffset":-16,"x2Offset":11,"strokeWidth":1.5,"color":"#000"},"encoding":{"x":{"datum":"L-CRC","type":"nominal","axis":null},"x2":{"datum":"mCRC"},"y":{"field":"yb"}}},
{"data":{"name":"ann"},"transform":[{"filter":"datum.p==='E'"}],"mark":{"type":"rule","xOffset":-16,"strokeWidth":1.5,"color":"#000"},"encoding":{"x":{"datum":"L-CRC","type":"nominal","axis":null},"y":{"field":"yb"},"y2":{"field":"yd"}}},
{"data":{"name":"ann"},"transform":[{"filter":"datum.p==='E'"}],"mark":{"type":"rule","xOffset":11,"strokeWidth":1.5,"color":"#000"},"encoding":{"x":{"datum":"mCRC","type":"nominal","axis":null},"y":{"field":"yb"},"y2":{"field":"yd"}}},
{"data":{"name":"ann"},"transform":[{"filter":"datum.p==='E'"}],"mark":{"type":"text","dx":46.5,"dy":-2,"baseline":"bottom","fontSize":12,"color":"#000"},"encoding":{"x":{"datum":"L-CRC","type":"nominal","axis":{"orient":"top","title":"Let-7c","labels":false,"ticks":false,"domain":false,"titlePadding":14,"titleFontSize":13,"titleFontWeight":"normal"}},"y":{"field":"yb"},"text":{"field":"t"}}}
]},
{"width":188,"height":130,"title":{"text":"F","anchor":"start","frame":"bounds","fontSize":19,"offset":-6},"resolve":{"axis":{"x":"independent"}},
"encoding":{"y":{"type":"quantitative","scale":{"domain":[-3,2],"nice":false,"zero":false},"axis":{"values":[-3,-2,-1,0,1,2],"title":"log₁₀RQ"}}},
"layer":[
{"data":{"name":"pts"},"transform":[{"filter":"datum.p==='F'"},{"flatten":["y","j"]}],"mark":{"type":"point","filled":true,"opacity":1,"color":"#000","size":36},"encoding":{"x":{"field":"g","type":"nominal","scale":{"domain":["L-CRC","mCRC"],"paddingInner":0.2,"paddingOuter":0.059},"axis":{"title":null,"labelAngle":0,"domainWidth":2.5,"tickSize":4,"tickWidth":1.2,"labelPadding":2,"labelFontSize":12}},"xOffset":{"field":"j","type":"quantitative","scale":{"domain":[-10,10]}},"y":{"field":"y"},"shape":{"field":"g","type":"nominal","scale":{"domain":["L-CRC","mCRC"],"range":["circle","square"]},"legend":null}}},
{"data":{"values":[{}]},"mark":{"type":"rule","strokeDash":[1.5,2.5],"color":"#000","strokeWidth":1.2},"encoding":{"y":{"datum":0}}},
{"data":{"name":"pts"},"transform":[{"filter":"datum.p==='F'"},{"flatten":["y","j"]}],"mark":{"type":"errorbar","extent":"stdev","color":"#000","thickness":1.5,"ticks":{"size":30,"color":"#000"}},"encoding":{"x":{"field":"g","type":"nominal","axis":null},"y":{"field":"y"}}},
{"data":{"name":"pts"},"transform":[{"filter":"datum.p==='F'"},{"flatten":["y","j"]}],"mark":{"type":"tick","size":50,"thickness":1.5,"color":"#000"},"encoding":{"x":{"field":"g","type":"nominal","axis":null},"y":{"field":"y","aggregate":"mean"}}},
{"data":{"name":"ann"},"transform":[{"filter":"datum.p==='F'"}],"mark":{"type":"rule","xOffset":-6,"x2Offset":11,"strokeWidth":1.5,"color":"#000"},"encoding":{"x":{"datum":"L-CRC","type":"nominal","axis":null},"x2":{"datum":"mCRC"},"y":{"field":"yb"}}},
{"data":{"name":"ann"},"transform":[{"filter":"datum.p==='F'"}],"mark":{"type":"rule","xOffset":-6,"strokeWidth":1.5,"color":"#000"},"encoding":{"x":{"datum":"L-CRC","type":"nominal","axis":null},"y":{"field":"yb"},"y2":{"field":"yd"}}},
{"data":{"name":"ann"},"transform":[{"filter":"datum.p==='F'"}],"mark":{"type":"rule","xOffset":11,"strokeWidth":1.5,"color":"#000"},"encoding":{"x":{"datum":"mCRC","type":"nominal","axis":null},"y":{"field":"yb"},"y2":{"field":"yd"}}},
{"data":{"name":"ann"},"transform":[{"filter":"datum.p==='F'"}],"mark":{"type":"text","dx":51.5,"dy":-2,"baseline":"bottom","fontSize":12,"color":"#000"},"encoding":{"x":{"datum":"L-CRC","type":"nominal","axis":{"orient":"top","title":"miR-31","labels":false,"ticks":false,"domain":false,"titlePadding":14,"titleFontSize":13,"titleFontWeight":"normal"}},"y":{"field":"yb"},"text":{"field":"t"}}}
]},
{"width":196,"height":130,"title":{"text":"G","anchor":"start","frame":"bounds","fontSize":19,"offset":-6},"resolve":{"axis":{"x":"independent"}},
"encoding":{"y":{"type":"quantitative","scale":{"domain":[-3,2],"nice":false,"zero":false},"axis":{"values":[-3,-2,-1,0,1,2],"title":"log₁₀RQ"}}},
"layer":[
{"data":{"name":"pts"},"transform":[{"filter":"datum.p==='G'"},{"flatten":["y","j"]}],"mark":{"type":"point","filled":true,"opacity":1,"color":"#000","size":36},"encoding":{"x":{"field":"g","type":"nominal","scale":{"domain":["L-CRC","mCRC"],"paddingInner":0.2,"paddingOuter":0.1},"axis":{"title":null,"labelAngle":0,"domainWidth":2.5,"tickSize":4,"tickWidth":1.2,"labelPadding":2,"labelFontSize":12}},"xOffset":{"field":"j","type":"quantitative","scale":{"domain":[-10,10]}},"y":{"field":"y"},"shape":{"field":"g","type":"nominal","scale":{"domain":["L-CRC","mCRC"],"range":["circle","square"]},"legend":null}}},
{"data":{"values":[{}]},"mark":{"type":"rule","strokeDash":[1.5,2.5],"color":"#000","strokeWidth":1.2},"encoding":{"y":{"datum":0}}},
{"data":{"name":"pts"},"transform":[{"filter":"datum.p==='G'"},{"flatten":["y","j"]}],"mark":{"type":"errorbar","extent":"stdev","color":"#000","thickness":1.5,"ticks":{"size":30,"color":"#000"}},"encoding":{"x":{"field":"g","type":"nominal","axis":null},"y":{"field":"y"}}},
{"data":{"name":"pts"},"transform":[{"filter":"datum.p==='G'"},{"flatten":["y","j"]}],"mark":{"type":"tick","size":50,"thickness":1.5,"color":"#000"},"encoding":{"x":{"field":"g","type":"nominal","axis":null},"y":{"field":"y","aggregate":"mean"}}},
{"data":{"name":"ann"},"transform":[{"filter":"datum.p==='G'"}],"mark":{"type":"rule","xOffset":-15,"x2Offset":11,"strokeWidth":1.5,"color":"#000"},"encoding":{"x":{"datum":"L-CRC","type":"nominal","axis":null},"x2":{"datum":"mCRC"},"y":{"field":"yb"}}},
{"data":{"name":"ann"},"transform":[{"filter":"datum.p==='G'"}],"mark":{"type":"rule","xOffset":-15,"strokeWidth":1.5,"color":"#000"},"encoding":{"x":{"datum":"L-CRC","type":"nominal","axis":null},"y":{"field":"yb"},"y2":{"field":"yd"}}},
{"data":{"name":"ann"},"transform":[{"filter":"datum.p==='G'"}],"mark":{"type":"rule","xOffset":11,"strokeWidth":1.5,"color":"#000"},"encoding":{"x":{"datum":"mCRC","type":"nominal","axis":null},"y":{"field":"yb"},"y2":{"field":"yd"}}},
{"data":{"name":"ann"},"transform":[{"filter":"datum.p==='G'"}],"mark":{"type":"text","dx":47,"dy":-2,"baseline":"bottom","fontSize":12,"color":"#000"},"encoding":{"x":{"datum":"L-CRC","type":"nominal","axis":{"orient":"top","title":"Let-7b","labels":false,"ticks":false,"domain":false,"titlePadding":14,"titleFontSize":13,"titleFontWeight":"normal"}},"y":{"field":"yb"},"text":{"field":"t"}}}
]}
]}
]
}
